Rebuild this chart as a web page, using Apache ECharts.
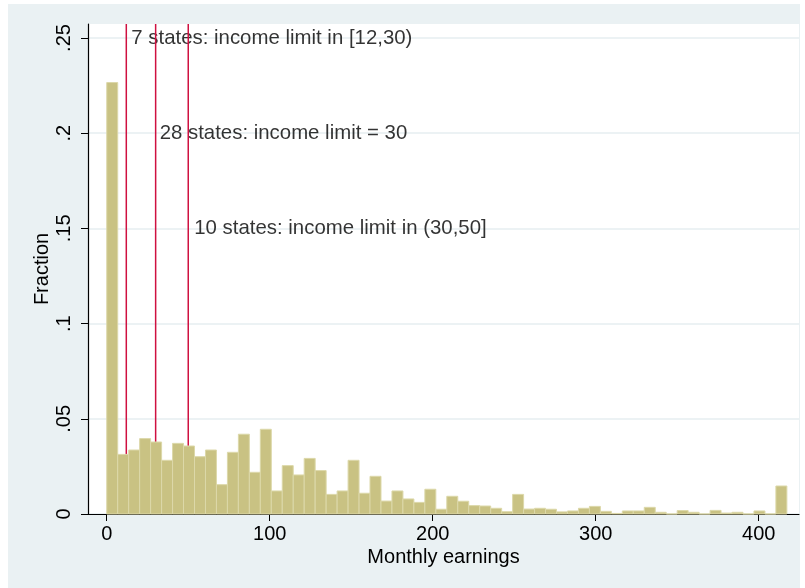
<!DOCTYPE html>
<html>
<head>
<meta charset="utf-8">
<script src="https://cdn.jsdelivr.net/npm/echarts@6/dist/echarts.min.js"></script>
<style>
  html, body { margin: 0; padding: 0; background: #ffffff; }
  #chart { width: 805px; height: 588px; }
</style>
</head>
<body>
<div id="chart"></div>
<script>
// ---- data ----
var binStart = 0;
var binWidth = 6.73;
var fractions = [
  0.2266, 0.0313, 0.0336, 0.0396, 0.0378, 0.0282, 0.0371, 0.0357, 0.0301, 0.0336,
  0.0154, 0.0324, 0.0419, 0.0219, 0.0445, 0.0121, 0.0254, 0.0205, 0.0292, 0.0228,
  0.0103, 0.0121, 0.0282, 0.0109, 0.0198, 0.0068, 0.0121, 0.0079, 0.0061, 0.0130,
  0.0025, 0.0093, 0.0067, 0.0044, 0.0042, 0.0030, 0.0012, 0.0103, 0.0026, 0.0030,
  0.0025, 0.0011, 0.0016, 0.0030, 0.0040, 0.0014, 0.0003, 0.0016, 0.0016, 0.0035,
  0.0009, 0.0000, 0.0018, 0.0009, 0.0000, 0.0019, 0.0005, 0.0009, 0.0000, 0.0016,
  0.0000, 0.0147
];
var limitLines = [12, 30, 50];
var limitTexts = [
  '7 states: income limit in [12,30)',
  '28 states: income limit = 30',
  '10 states: income limit in (30,50]'
];
var limitTextY = [0.25, 0.2, 0.15];
var xTicks = [0, 100, 200, 300, 400];
var yTicks = [0, 0.05, 0.1, 0.15, 0.2, 0.25];
var xName = 'Monthly earnings';
var yName = 'Fraction';

// ---- build ----
var X_MIN = -11.5, X_MAX = 424.7, Y_MIN = 0, Y_MAX = 0.25735;
var FONT = '"Liberation Sans", Arial, sans-serif';
var barData = fractions.map(function (v, i) {
  return [binStart + i * binWidth, binStart + (i + 1) * binWidth, v];
});

var series = [];
limitLines.forEach(function (x) {
  series.push({
    type: 'line',
    data: [[x, Y_MIN], [x, Y_MAX]],
    symbol: 'none',
    lineStyle: { color: '#cf1040', width: 1.5 },
    z: 3,
    silent: true,
    animation: false
  });
});
series.push({
  type: 'custom',
  z: 4,
  animation: false,
  renderItem: function (params, api) {
    var p0 = api.coord([api.value(0), api.value(2)]);
    var p1 = api.coord([api.value(1), 0]);
    return {
      type: 'rect',
      shape: { x: p0[0], y: p0[1], width: p1[0] - p0[0], height: p1[1] - p0[1] },
      style: { fill: '#c9c283', stroke: '#dcd8a9', lineWidth: 1 }
    };
  },
  encode: { x: [0, 1], y: 2 },
  data: barData
});
var labelDist = [5, 4, 6];
series.push({
  type: 'scatter',
  symbolSize: 0,
  z: 2,
  silent: true,
  animation: false,
  data: limitLines.map(function (x, i) {
    return {
      value: [x, limitTextY[i]],
      label: {
        show: true,
        position: 'right',
        distance: labelDist[i],
        formatter: limitTexts[i],
        color: '#000',
        fontSize: 20.4,
        fontFamily: FONT
      }
    };
  })
});

var option = {
  backgroundColor: '#ffffff',
  animation: false,
  graphic: [
    { type: 'rect', z: -100, silent: true, shape: { x: 8, y: 4, width: 792, height: 584 }, style: { fill: '#eaf1f3' } },
    { type: 'rect', z: -99, silent: true, shape: { x: 88, y: 24, width: 711, height: 490 }, style: { fill: '#ffffff' } }
  ],
  grid: { left: 88, right: 6, top: 24, bottom: 74, containLabel: false },
  xAxis: {
    type: 'value',
    min: X_MIN, max: X_MAX,
    name: xName,
    nameLocation: 'middle',
    nameGap: 33,
    nameMoveOverlap: false,
    nameTextStyle: { color: '#000', fontSize: 20, fontFamily: FONT },
    axisLine: { show: true, onZero: false, lineStyle: { color: '#000', width: 1.2 } },
    axisTick: { show: true, length: 7, customValues: xTicks, lineStyle: { color: '#000' } },
    axisLabel: { customValues: xTicks, margin: 10, color: '#000', fontSize: 20, fontFamily: FONT },
    splitLine: { show: false }
  },
  yAxis: {
    type: 'value',
    min: Y_MIN, max: Y_MAX,
    name: yName,
    nameLocation: 'middle',
    nameGap: 36,
    nameRotate: 90,
    nameMoveOverlap: false,
    nameTextStyle: { color: '#000', fontSize: 20, fontFamily: FONT },
    axisLine: { show: true, onZero: false, lineStyle: { color: '#000', width: 1.2 } },
    axisTick: { show: true, length: 7, customValues: yTicks, lineStyle: { color: '#000' } },
    axisLabel: {
      customValues: yTicks,
      rotate: 90,
      margin: 14,
      color: '#000', fontSize: 20, fontFamily: FONT,
      formatter: function (v) { return v === 0 ? '0' : String(+v.toFixed(4)).replace(/^0/, ''); }
    },
    splitLine: { show: true, lineStyle: { color: '#e6eef1', width: 1.5 } }
  },
  series: series
};

var chart = echarts.init(document.getElementById('chart'), null, { renderer: 'canvas' });
chart.setOption(option);
</script>
</body>
</html>
